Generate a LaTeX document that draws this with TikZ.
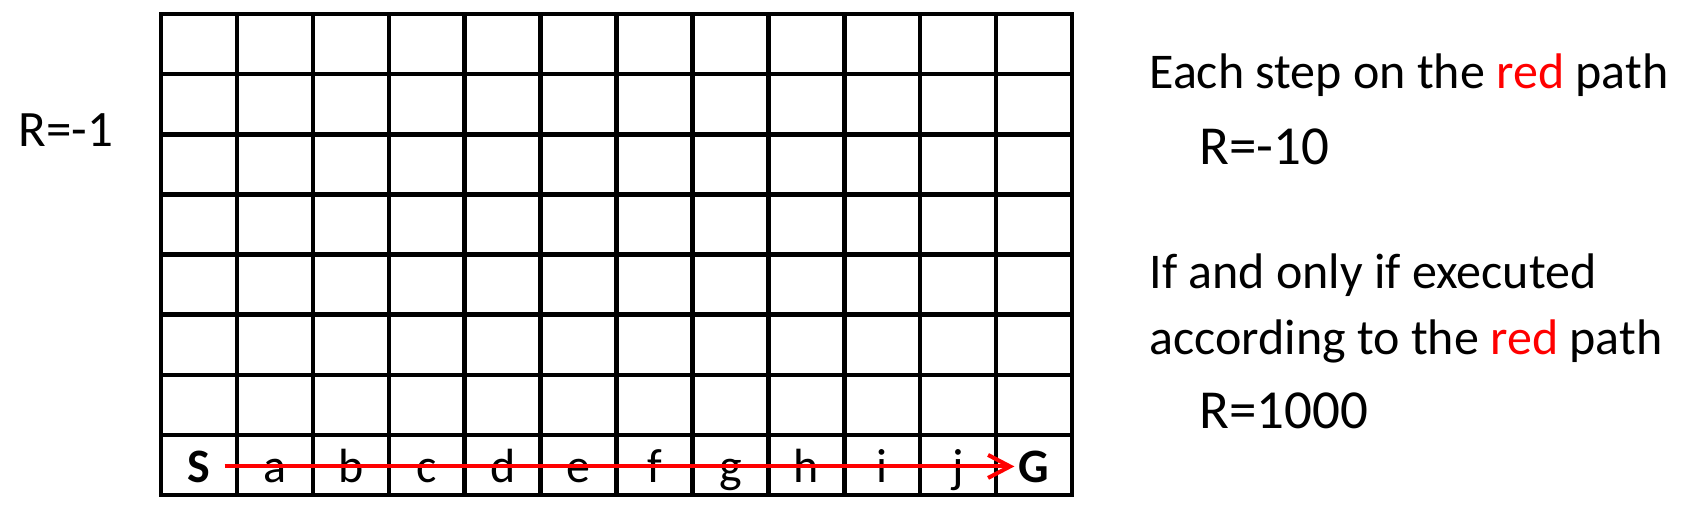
\documentclass[tikz,border=0pt]{standalone}
\usepackage{fontspec}
\setmainfont{Carlito}
\usetikzlibrary{arrows.meta}

\begin{document}
\begin{tikzpicture}[
  x=0.5pt, y=-0.5pt,
  gridline/.style={line width=2.25pt, line cap=rect},
  cell/.style={anchor=base, inner sep=2pt, font=\fontsize{24}{28}\selectfont},
  ends/.style={cell, font=\fontsize{24}{28}\selectfont\bfseries},
  note/.style={anchor=base west, inner sep=0pt, font=\fontsize{25}{30}\selectfont},
  reward/.style={anchor=base west, inner sep=0pt, font=\fontsize{27.5}{32}\selectfont},
  redpath/.style={red, line width=2pt, -{Straight Barb[length=11pt, width=11.5pt]}}
]
\useasboundingbox (0,0) rectangle (1683,511);

% grid world, 12 x 8
\draw[gridline] (161,14) rectangle (1072,495);
\foreach \i in {1,...,11}
  \draw[gridline] ({161+75.92*\i},14) -- ({161+75.92*\i},495);
\foreach \j in {1,...,7}
  \draw[gridline] (161,{14+60.125*\j}) -- (1072,{14+60.125*\j});

% bottom row
\node[ends] (S) at ({161+75.92*0.5},482) {S};
\foreach \l [count=\k] in {a,b,c,d,e,f,g,h,i,j}
  \node[cell] (\l) at ({161+75.92*(\k+0.5)},482) {\l};
\node[ends] (G) at ({161+75.92*11.5},482) {G};

\draw[redpath, shorten <=5pt] (S.east) -- (G.west);

% rewards
\node[anchor=base west, inner sep=0pt, font=\fontsize{25.5}{30}\selectfont] (rstep) at (18,146) {R=-1};

\node[note] (each) at (1149,88) {Each step on the \textcolor{red}{red} path};
\node[reward] (rpen) at (1199,164) {R=-10};
\node[note] (iff) at (1149,288) {If and only if executed};
\node[note] (acc) at (1149,354) {according to the \textcolor{red}{red} path};
\node[reward] (rbig) at (1199,428) {R=1000};
\end{tikzpicture}
\end{document}
